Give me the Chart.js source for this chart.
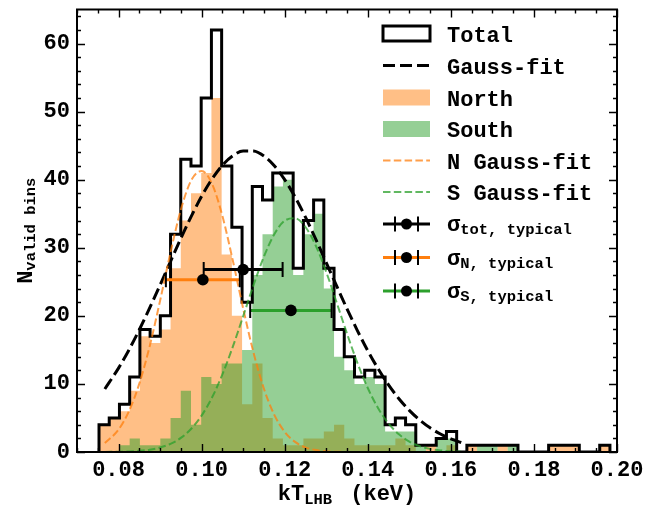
<!DOCTYPE html>
<html>
<head>
<meta charset="utf-8">
<script src="https://cdn.jsdelivr.net/npm/chart.js@4.4.1/dist/chart.umd.min.js"></script>
<style>
  html, body { margin: 0; padding: 0; background: #fff; }
  #wrap { width: 667px; height: 508px; }
</style>
</head>
<body>
<div id="wrap"><canvas id="c" width="667" height="508"></canvas></div>
<script>
// ---- histogram of kT_LHB: 50 equal-width bins ----
const binStart = 0.0753;
const binWidth = 0.00246;
const totalCounts = [4, 5, 7, 11, 18, 17, 20, 32, 43, 42,
                     52, 62, 42, 33, 22, 39, 37, 41, 41, 27,
                     34, 37, 27, 18, 14, 11, 12, 11, 4, 5,
                     4, 1, 1, 2, 3, 0, 1, 1, 1, 1,
                     1, 0, 0, 0, 1, 1, 1, 0, 0, 1];
const northCounts = [4, 5, 6, 9, 17, 16, 18, 27, 34, 38,
                     41, 52, 29, 20, 7, 13, 5, 2, 1, 1,
                     2, 2, 3, 4, 2, 1, 1, 1, 1, 2,
                     1, 0, 1, 0, 1, 0, 1, 0, 0, 1,
                     0, 0, 0, 0, 1, 1, 1, 0, 0, 1];
const southCounts = [0, 0, 1, 2, 1, 1, 2, 5, 9, 4,
                     11, 10, 13, 13, 15, 26, 32, 39, 40, 26,
                     32, 35, 24, 14, 12, 10, 11, 10, 3, 3,
                     3, 1, 0, 2, 2, 0, 0, 1, 1, 0,
                     1, 0, 0, 0, 0, 0, 0, 0, 0, 0];

// ---- Gaussian fit curves, sampled along kT ----
const fitX = [0.0767, 0.0800, 0.0825, 0.0850, 0.0875, 0.0900, 0.0925, 0.0950, 0.0975, 0.1000,
              0.1025, 0.1050, 0.1075, 0.1100, 0.1125, 0.1150, 0.1175, 0.1200, 0.1225, 0.1250,
              0.1275, 0.1300, 0.1325, 0.1350, 0.1375, 0.1400, 0.1425, 0.1450, 0.1475, 0.1500,
              0.1525, 0.1550, 0.1575, 0.1600, 0.1625];
const totalFit = [9.26, 12.32, 14.99, 17.96, 21.17, 24.53, 27.97, 31.37, 34.61, 37.57,
                  40.10, 42.12, 43.51, 44.22, 44.20, 43.47, 42.05, 40.01, 37.45, 34.49,
                  31.24, 27.83, 24.40, 21.03, 17.84, 14.88, 12.22, 9.86, 7.83, 6.12,
                  4.70, 3.55, 2.64, 1.93, 1.39];
const northFit = [1.32, 3.29, 5.98, 10.04, 15.55, 22.22, 29.28, 35.59, 39.91, 41.29,
                  39.40, 34.68, 28.16, 21.10, 14.58, 9.29, 5.46, 2.96, 1.48, 0.68,
                  0.29, 0.11, 0.04, 0.01, 0, 0, 0, 0, 0, 0,
                  0, 0, 0, 0, 0];
const southFit = [0.01, 0.04, 0.08, 0.17, 0.34, 0.66, 1.19, 2.07, 3.41, 5.35,
                  8.00, 11.39, 15.45, 19.94, 24.52, 28.70, 32.00, 33.97, 34.33, 33.05,
                  30.29, 26.44, 21.97, 17.39, 13.10, 9.40, 6.43, 4.18, 2.59, 1.53,
                  0.86, 0.46, 0.23, 0.11, 0.05];

// ---- typical uncertainties (centre, height, half-width) ----
const sigmaNames = ['tot', 'N', 'S'];
const sigmaX = [0.1100, 0.1003, 0.1215];
const sigmaY = [26.8, 25.3, 20.8];
const sigmaErr = [0.0095, 0.0089, 0.0098];

// ---- axis ticks ----
const xTicks = [0.08, 0.10, 0.12, 0.14, 0.16, 0.18, 0.20];
const yTicks = [0, 10, 20, 30, 40, 50, 60];

const FONT = '"Liberation Mono", "DejaVu Sans Mono", monospace';
const ORANGE = '#ff7f0e', GREEN = '#2ca02c';
const ORANGE_FILL = 'rgba(255,127,14,0.5)', GREEN_FILL = 'rgba(44,160,44,0.5)';
const ORANGE_DASH = 'rgba(255,127,14,0.75)', GREEN_DASH = 'rgba(44,160,44,0.75)';
const sigmaColors = ['#000000', ORANGE, GREEN];

const edges = Array.from({ length: totalCounts.length + 1 }, (_, i) => binStart + i * binWidth);
function stepPoints(counts) {
  const pts = [{ x: edges[0], y: 0 }];
  counts.forEach((c, i) => pts.push({ x: edges[i], y: c }));
  pts.push({ x: edges[counts.length], y: 0 });
  return pts;
}
const curve = ys => fitX.map((x, i) => ({ x, y: ys[i] }));

const datasets = [
  { label: 'North', data: stepPoints(northCounts), stepped: true, fill: 'origin',
    backgroundColor: ORANGE_FILL, borderColor: 'transparent', borderWidth: 0, pointRadius: 0, order: 10 },
  { label: 'South', data: stepPoints(southCounts), stepped: true, fill: 'origin',
    backgroundColor: GREEN_FILL, borderColor: 'transparent', borderWidth: 0, pointRadius: 0, order: 9 },
  { label: 'Total', data: stepPoints(totalCounts), stepped: true, fill: false,
    borderColor: '#000', borderWidth: 3, pointRadius: 0, order: 8 },
  { label: 'Gauss-fit', data: curve(totalFit), fill: false, borderColor: '#000', borderWidth: 3,
    borderDash: [12, 5], cubicInterpolationMode: 'monotone', pointRadius: 0, order: 7 },
  { label: 'N Gauss-fit', data: curve(northFit), fill: false, borderColor: ORANGE_DASH, borderWidth: 2,
    borderDash: [7.5, 3.3], cubicInterpolationMode: 'monotone', pointRadius: 0, order: 6 },
  { label: 'S Gauss-fit', data: curve(southFit), fill: false, borderColor: GREEN_DASH, borderWidth: 2,
    borderDash: [7.5, 3.3], cubicInterpolationMode: 'monotone', pointRadius: 0, order: 5 }
];
sigmaNames.forEach((n, i) => {
  datasets.push({
    label: 'sigma ' + n,
    data: [{ x: sigmaX[i] - sigmaErr[i], y: sigmaY[i] }, { x: sigmaX[i] + sigmaErr[i], y: sigmaY[i] }],
    fill: false, borderColor: sigmaColors[i], borderWidth: 3,
    pointStyle: 'line', pointRotation: 90, pointRadius: 7.5,
    pointBorderColor: '#000', pointBorderWidth: 2, order: 4 - i * 0.1
  });
});
datasets.push({
  label: 'centres', data: sigmaX.map((x, i) => ({ x, y: sigmaY[i] })), showLine: false,
  pointStyle: 'circle', pointRadius: 5.8, pointBackgroundColor: '#000', pointBorderColor: '#000',
  pointBorderWidth: 0, order: 1
});

// text with a lowered, smaller subscript part
function drawParts(ctx, parts, x0, y0, align) {
  let w = 0;
  parts.forEach(p => { ctx.font = 'bold ' + p.size + 'px ' + FONT; p.w = ctx.measureText(p.t).width + (p.gap || 0); w += p.w; });
  let x = align === 'center' ? x0 - w / 2 : x0;
  ctx.textAlign = 'left';
  ctx.textBaseline = 'alphabetic';
  parts.forEach(p => {
    ctx.font = 'bold ' + p.size + 'px ' + FONT;
    ctx.fillText(p.t, x, y0 + (p.dy || 0));
    x += p.w;
  });
}

const decor = {
  id: 'decor',
  afterDatasetsDraw(chart) {
    const { ctx, chartArea: a, scales: { x, y } } = chart;
    ctx.save();
    ctx.strokeStyle = '#000';
    ctx.lineWidth = 1.4;
    ctx.beginPath();
    const xt = (v, len) => {
      const px = Math.round(x.getPixelForValue(v)) + 0.5;
      ctx.moveTo(px, a.bottom); ctx.lineTo(px, a.bottom - len);
      ctx.moveTo(px, a.top); ctx.lineTo(px, a.top + len);
    };
    const yt = (v, len) => {
      const py = Math.round(y.getPixelForValue(v)) + 0.5;
      ctx.moveTo(a.left, py); ctx.lineTo(a.left + len, py);
      ctx.moveTo(a.right, py); ctx.lineTo(a.right - len, py);
    };
    for (let k = 14; k <= 40; k++) { if (k % 4 !== 0) xt(k * 0.005, 4); }
    xTicks.forEach(v => xt(v, 8));
    for (let k = 0; k <= 64; k += 2) { if (k % 10 !== 0) yt(k, 4); }
    yTicks.forEach(v => yt(v, 8));
    ctx.stroke();
    ctx.lineWidth = 2;
    ctx.strokeRect(a.left, a.top, a.right - a.left, a.bottom - a.top);
    ctx.restore();
  },
  afterDraw(chart) {
    const { ctx, chartArea: a } = chart;
    ctx.save();
    ctx.fillStyle = '#000';
    // axis titles
    drawParts(ctx, [{ t: 'kT', size: 22 }, { t: 'LHB', size: 15.5, dy: 4, gap: 5 }, { t: ' (keV)', size: 22 }],
      (a.left + a.right) / 2, 500, 'center');
    ctx.save();
    ctx.translate(32, (a.top + a.bottom) / 2);
    ctx.rotate(-Math.PI / 2);
    drawParts(ctx, [{ t: 'N', size: 22 }, { t: 'valid bins', size: 15.5, dy: 3 }], 0, 0, 'center');
    ctx.restore();

    // legend
    const L0 = 383, L1 = 430, TX = 447;
    const rows = [33.5, 65.5, 97.5, 129, 160.5, 192, 224, 257.5, 291];
    ctx.lineWidth = 3; ctx.strokeStyle = '#000'; ctx.fillStyle = '#fff';
    ctx.fillRect(L0, rows[0] - 7.5, L1 - L0, 15);
    ctx.strokeRect(L0, rows[0] - 7.5, L1 - L0, 15);
    const dash = (yy, color, w, pat) => {
      ctx.save(); ctx.strokeStyle = color; ctx.lineWidth = w; ctx.setLineDash(pat);
      ctx.beginPath(); ctx.moveTo(L0, yy); ctx.lineTo(L1, yy); ctx.stroke(); ctx.restore();
    };
    dash(rows[1], '#000', 3, [12, 5]);
    ctx.fillStyle = ORANGE_FILL; ctx.fillRect(L0, rows[2] - 8, L1 - L0, 16);
    ctx.fillStyle = GREEN_FILL; ctx.fillRect(L0, rows[3] - 8, L1 - L0, 16);
    dash(rows[4], ORANGE_DASH, 2, [7.5, 3.3]);
    dash(rows[5], GREEN_DASH, 2, [7.5, 3.3]);
    sigmaColors.forEach((c, i) => {
      const yy = rows[6 + i];
      ctx.strokeStyle = c; ctx.lineWidth = 3;
      ctx.beginPath(); ctx.moveTo(L0, yy); ctx.lineTo(L1, yy); ctx.stroke();
      ctx.strokeStyle = '#000'; ctx.lineWidth = 2;
      ctx.beginPath();
      ctx.moveTo(395, yy - 7.5); ctx.lineTo(395, yy + 7.5);
      ctx.moveTo(418, yy - 7.5); ctx.lineTo(418, yy + 7.5);
      ctx.stroke();
      ctx.fillStyle = '#000';
      ctx.beginPath(); ctx.arc(406.5, yy, 5.5, 0, Math.PI * 2); ctx.fill();
    });
    ctx.fillStyle = '#000';
    const labels = ['Total', 'Gauss-fit', 'North', 'South', 'N Gauss-fit', 'S Gauss-fit'];
    labels.forEach((t, i) => drawParts(ctx, [{ t, size: 22 }], TX, rows[i] + 8, 'left'));
    sigmaNames.forEach((n, i) => {
      drawParts(ctx, [{ t: '\u03c3', size: 22 }, { t: n + ', typical', size: 15.5, dy: 3 }], TX, rows[6 + i] + 7, 'left');
    });
    ctx.restore();
  }
};

Chart.defaults.font.family = FONT;
new Chart(document.getElementById('c'), {
  type: 'line',
  data: { datasets },
  options: {
    responsive: false,
    animation: false,
    events: [],
    layout: { padding: { left: 0, right: 50, top: 5, bottom: 0 } },
    plugins: { legend: { display: false }, tooltip: { enabled: false } },
    scales: {
      x: {
        type: 'linear', min: 0.07, max: 0.20,
        grid: { display: false, drawTicks: false }, border: { display: false },
        afterBuildTicks: s => { s.ticks = xTicks.map(v => ({ value: v })); },
        afterFit: s => { s.height = 56; s.paddingLeft = 0; s.paddingRight = 0; },
        ticks: { color: '#000', padding: 5, maxRotation: 0, autoSkip: false,
                 font: { size: 22, weight: 'bold' }, callback: v => Number(v).toFixed(2) }
      },
      y: {
        type: 'linear', min: 0, max: 65,
        grid: { display: false, drawTicks: false }, border: { display: false },
        afterBuildTicks: s => { s.ticks = yTicks.map(v => ({ value: v })); },
        afterFit: s => { s.width = 77; s.paddingTop = 0; s.paddingBottom = 0; },
        ticks: { color: '#000', padding: 7, font: { size: 22, weight: 'bold' },
                 callback: v => String(v) }
      }
    }
  },
  plugins: [decor]
});
</script>
</body>
</html>
